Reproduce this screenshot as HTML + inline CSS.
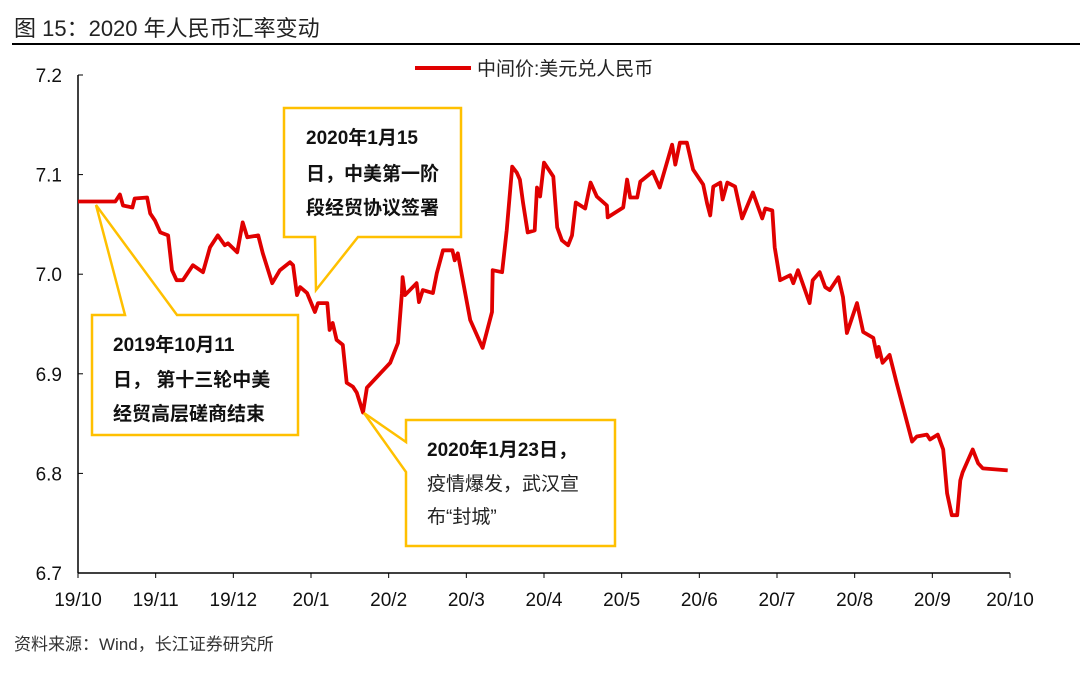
<!DOCTYPE html>
<html><head><meta charset="utf-8"><style>
body{margin:0;width:1080px;height:670px;background:#fff;overflow:hidden;font-family:"Liberation Sans","Noto Sans CJK SC",sans-serif}
</style></head><body>
<svg width="1080" height="670" xmlns="http://www.w3.org/2000/svg" font-family="'Liberation Sans','Noto Sans CJK SC',sans-serif">
<text x="14" y="36" font-size="22" fill="#222">图  15：2020 年人民币汇率变动</text>
<line x1="12" y1="44" x2="1080" y2="44" stroke="#000" stroke-width="2"/>
<g id="axes"></g>
<g id="plot"></g>
<line x1="415" y1="68" x2="471" y2="68" stroke="#e00000" stroke-width="4"/>
<text x="477" y="75" font-size="19" fill="#222">中间价:美元兑人民币</text>
<g fill="#fff" stroke="#FFC000" stroke-width="2.5">
<path d="M284,108 H461 V237 H358 L316,290 L315,237 H284 Z"/>
<path d="M92,315 H125 L96,205 L177,315 H298 V435 H92 Z"/>
<path d="M406,420 H615 V546 H406 V472 L364,413 L406,442 Z"/>
</g>
<g font-size="19" fill="#111">
<text x="306" y="144" font-weight="bold">2020年1月15</text>
<text x="306" y="180" font-weight="bold">日，中美第一阶</text>
<text x="306" y="214" font-weight="bold">段经贸协议签署</text>
<text x="113" y="351" font-weight="bold">2019年10月11</text>
<text x="113" y="386" font-weight="bold">日， 第十三轮中美</text>
<text x="113" y="420" font-weight="bold">经贸高层磋商结束</text>
<text x="427" y="456" font-weight="bold">2020年1月23日，</text>
<text x="427" y="490" fill="#222">疫情爆发，武汉宣</text>
<text x="427" y="523" fill="#222">布“封城”</text>
</g>
<text x="14" y="650" font-size="17" fill="#333">资料来源：Wind，长江证券研究所</text>
</svg>
<script>
const monthLabels=["19/10","19/11","19/12","20/1","20/2","20/3","20/4","20/5","20/6","20/7","20/8","20/9","20/10"];
const yTicks=[6.7,6.8,6.9,7.0,7.1,7.2];
const dates=[0,0.48,0.54,0.58,0.70,0.73,0.89,0.93,0.99,1.06,1.16,1.21,1.27,1.35,1.48,1.61,1.70,1.80,1.89,1.93,2.05,2.12,2.18,2.32,2.38,2.50,2.60,2.73,2.77,2.82,2.86,2.95,3.05,3.09,3.21,3.24,3.28,3.33,3.41,3.46,3.54,3.59,3.67,3.72,4.02,4.12,4.17,4.18,4.21,4.36,4.39,4.44,4.57,4.62,4.70,4.82,4.85,4.89,5.05,5.21,5.33,5.34,5.46,5.52,5.59,5.65,5.69,5.73,5.79,5.88,5.91,5.95,6.00,6.12,6.17,6.23,6.31,6.36,6.41,6.53,6.60,6.68,6.81,6.82,7.02,7.07,7.11,7.20,7.24,7.40,7.49,7.65,7.69,7.75,7.84,7.92,8.05,8.10,8.14,8.18,8.27,8.30,8.36,8.46,8.55,8.69,8.81,8.85,8.94,8.97,9.04,9.17,9.21,9.27,9.42,9.46,9.55,9.62,9.68,9.79,9.85,9.90,10.03,10.11,10.24,10.29,10.31,10.36,10.45,10.54,10.74,10.80,10.93,10.97,11.07,11.14,11.19,11.25,11.32,11.36,11.39,11.52,11.59,11.65,11.97];
const rates=[7.073,7.073,7.080,7.069,7.067,7.076,7.077,7.061,7.054,7.042,7.039,7.004,6.994,6.994,7.009,7.002,7.027,7.039,7.029,7.031,7.022,7.052,7.037,7.039,7.021,6.991,7.004,7.012,7.009,6.979,6.987,6.981,6.962,6.971,6.971,6.944,6.951,6.934,6.929,6.891,6.887,6.881,6.861,6.886,6.911,6.931,6.981,6.997,6.979,6.991,6.972,6.984,6.981,7.001,7.024,7.024,7.014,7.021,6.954,6.926,6.962,7.004,7.002,7.044,7.108,7.102,7.095,7.072,7.042,7.044,7.087,7.078,7.112,7.098,7.047,7.034,7.029,7.039,7.072,7.066,7.092,7.078,7.069,7.057,7.067,7.095,7.077,7.077,7.093,7.103,7.087,7.130,7.110,7.132,7.132,7.105,7.090,7.071,7.059,7.088,7.092,7.075,7.092,7.088,7.056,7.082,7.056,7.066,7.064,7.027,6.994,6.999,6.991,7.004,6.971,6.994,7.002,6.987,6.984,6.997,6.977,6.941,6.971,6.942,6.936,6.917,6.927,6.911,6.919,6.891,6.832,6.837,6.839,6.834,6.839,6.824,6.780,6.758,6.758,6.793,6.801,6.824,6.810,6.805,6.803];
const NS='http://www.w3.org/2000/svg';
const X0=78,X1=1010,YT=75,YB=573,YMIN=6.7,YMAX=7.2;
const xs=m=>X0+(X1-X0)*m/12;
const ys=v=>YB-(v-YMIN)/(YMAX-YMIN)*(YB-YT);
const axes=document.getElementById('axes'),plot=document.getElementById('plot');
function mk(t,a,p){const e=document.createElementNS(NS,t);for(const k in a)e.setAttribute(k,a[k]);p.appendChild(e);return e;}
let e=mk('line',{x1:X0,y1:YT,x2:X0,y2:YB,stroke:'#000','stroke-width':1.5},axes);


e=mk('line',{x1:X0,y1:YB,x2:X1,y2:YB,stroke:'#000','stroke-width':1.5},axes);


yTicks.forEach(v=>{
 const t=mk('line',{x1:X0,y1:ys(v),x2:X0+5,y2:ys(v),stroke:'#000'},axes);
 
 
 const l=mk('text',{x:X0-16,y:ys(v)+7,'font-size':19,'text-anchor':'end',fill:'#111'},axes);
 l.textContent=v.toFixed(1);
 
 
});
monthLabels.forEach((s,i)=>{
 const t=mk('line',{x1:xs(i),y1:YB,x2:xs(i),y2:YB+5,stroke:'#000'},axes);
 
 
 const l=mk('text',{x:xs(i),y:YB+33,'font-size':19,'text-anchor':'middle',fill:'#111'},axes);
 l.textContent=s;
 
 
});
const pts=dates.map((d,i)=>xs(d).toFixed(1)+','+ys(rates[i]).toFixed(1)).join(' ');
const pl=mk('polyline',{points:pts,fill:'none',stroke:'#e00000','stroke-width':3.8,'stroke-linejoin':'round'},plot);


</script>
</body></html>
